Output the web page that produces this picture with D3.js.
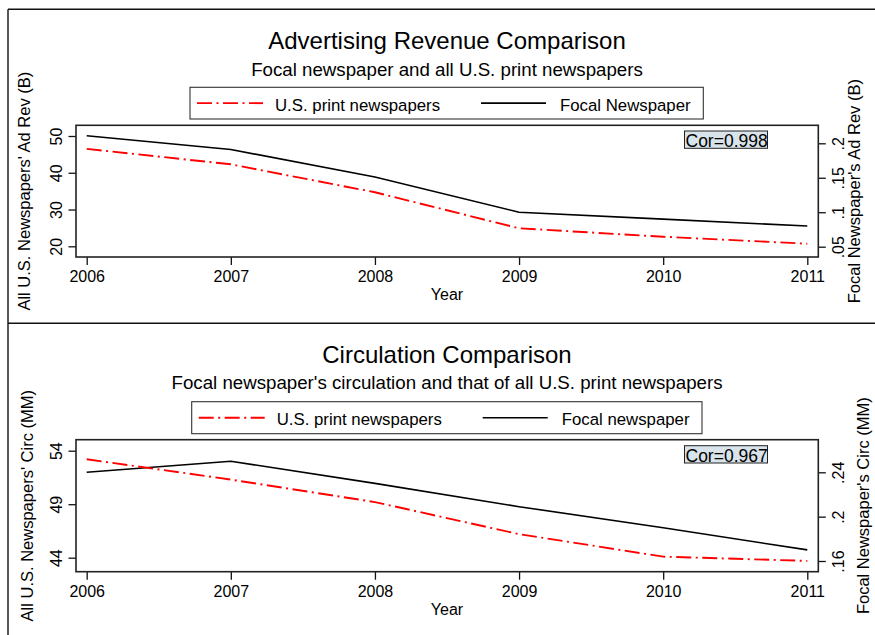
<!DOCTYPE html>
<html>
<head>
<meta charset="utf-8">
<script src="https://cdn.jsdelivr.net/npm/d3@7"></script>
<style>
  body { margin: 0; background: #fff; }
  svg { display: block; font-family: "Liberation Sans", Arial, sans-serif; }
</style>
</head>
<body>
<svg id="svg_chart" width="875" height="635"></svg>
<script>

// values
var years = [2006, 2007, 2008, 2009, 2010, 2011];

var adRevUS = [46.5, 42.3, 34.7, 24.9, 22.6, 20.7];
var adRevFocal = [0.211, 0.191, 0.151, 0.100, 0.090, 0.080];
var adRevLeftTicks = [20, 30, 40, 50];
var adRevRightTicks = [0.05, 0.1, 0.15, 0.2];

var circUS = [53.2, 51.3, 49.2, 46.2, 44.1, 43.7];
var circFocal = [0.240, 0.250, 0.230, 0.209, 0.190, 0.170];
var circLeftTicks = [44, 49, 54];
var circRightTicks = [0.16, 0.2, 0.24];

var svg = d3.select("#svg_chart")

// outer frames of the two graphs
svg.append("path")
  .attr("d", "M8,9.3H876 M8,9.3V636 M8,323.3H876")
  .attr("fill", "none")
  .attr("stroke", "#111")
  .attr("stroke-width", 1.4)

var stripZero = d => String(d).replace(/^0\./, ".")

function drawPanel(p)
{
  var g = svg.append("g")

  var x = d3.scaleLinear().domain([2006, 2011]).range([86.7, 807.3])
  var yL = d3.scaleLinear().domain(p.leftDomain).range(p.leftRange)
  var yR = d3.scaleLinear().domain(p.rightDomain).range(p.rightRange)

  // titles
  g.append("text")
    .attr("x", 447).attr("y", p.titleY)
    .attr("text-anchor", "middle")
    .attr("font-size", 24)
    .text(p.title)

  g.append("text")
    .attr("x", 447).attr("y", p.subY)
    .attr("text-anchor", "middle")
    .attr("font-size", 18.7)
    .text(p.subtitle)

  // legend
  var lg = g.append("g")
  lg.append("rect")
    .attr("x", p.legend[0]).attr("y", p.legend[1])
    .attr("width", p.legend[2] - p.legend[0])
    .attr("height", p.legend[3] - p.legend[1])
    .attr("fill", "#fff")
    .attr("stroke", "#333")
    .attr("stroke-width", 1.1)

  var ly = (p.legend[1] + p.legend[3]) / 2
  lg.append("line")
    .attr("x1", p.legend[0] + 7).attr("x2", p.legend[0] + 73)
    .attr("y1", ly).attr("y2", ly)
    .attr("stroke", "red").attr("stroke-width", 1.9)
    .attr("stroke-dasharray", "15,4.5,2,4.5")
  lg.append("text")
    .attr("x", p.legend[0] + 85).attr("y", ly + 7.4)
    .attr("font-size", 16.8)
    .text("U.S. print newspapers")
  lg.append("line")
    .attr("x1", p.legend[0] + 291).attr("x2", p.legend[0] + 356)
    .attr("y1", ly).attr("y2", ly)
    .attr("stroke", "#000").attr("stroke-width", 1.6)
  lg.append("text")
    .attr("x", p.legend[0] + 370).attr("y", ly + 7.4)
    .attr("font-size", 16.8)
    .text(p.focalLabel)

  // axes
  var xAxis = g.append("g")
    .attr("transform", "translate(0," + p.plotBottom + ")")
    .call(d3.axisBottom(x).tickValues(years).tickFormat(d3.format("d")).tickSize(8).tickSizeOuter(0))
  xAxis.select(".domain").remove()
  xAxis.selectAll("text")
    .attr("y", 25.3).attr("dy", 0)
    .attr("font-size", 16).attr("font-family", null)

  var leftAxis = g.append("g")
    .attr("transform", "translate(76,0)")
    .call(d3.axisLeft(yL).tickValues(p.leftTicks).tickSize(7.5).tickSizeOuter(0))
  leftAxis.select(".domain").remove()
  leftAxis.selectAll("text")
    .attr("transform", "rotate(-90)")
    .attr("x", 0).attr("y", -13.8).attr("dy", 0)
    .attr("text-anchor", "middle")
    .attr("font-size", 16).attr("font-family", null)

  var rightAxis = g.append("g")
    .attr("transform", "translate(818.3,0)")
    .call(d3.axisRight(yR).tickValues(p.rightTicks).tickFormat(stripZero).tickSize(7.5).tickSizeOuter(0))
  rightAxis.select(".domain").remove()
  rightAxis.selectAll("text")
    .attr("transform", "rotate(-90)")
    .attr("x", 0).attr("y", 26).attr("dy", 0)
    .attr("text-anchor", "middle")
    .attr("font-size", 16).attr("font-family", null)

  g.selectAll(".tick line").attr("stroke", "#111").attr("stroke-width", 1.3)

  // axis titles
  g.append("text")
    .attr("x", 447).attr("y", p.yearY)
    .attr("text-anchor", "middle")
    .attr("font-size", 16)
    .text("Year")

  var midY = (p.plotTop + p.plotBottom) / 2
  g.append("text")
    .attr("transform", "translate(" + p.leftTitleX + "," + midY + ") rotate(-90)")
    .attr("text-anchor", "middle")
    .attr("font-size", 16.5)
    .text(p.leftTitle)
  g.append("text")
    .attr("transform", "translate(" + p.rightTitleX + "," + midY + ") rotate(-90)")
    .attr("text-anchor", "middle")
    .attr("font-size", 16.5)
    .text(p.rightTitle)

  // the series
  var usLine = d3.line()
    .x((d, i) => x(years[i]))
    .y(d => yL(d))
  var focalLine = d3.line()
    .x((d, i) => x(years[i]))
    .y(d => yR(d))

  g.append("path")
    .datum(p.focal)
    .attr("d", focalLine)
    .attr("fill", "none")
    .attr("stroke", "#000")
    .attr("stroke-width", 1.6)

  g.append("path")
    .datum(p.us)
    .attr("d", usLine)
    .attr("fill", "none")
    .attr("stroke", "red")
    .attr("stroke-width", 1.9)
    .attr("stroke-dasharray", "15,4.5,2,4.5")

  // plot region box
  g.append("rect")
    .attr("x", 76).attr("y", p.plotTop)
    .attr("width", 818.3 - 76)
    .attr("height", p.plotBottom - p.plotTop)
    .attr("fill", "none")
    .attr("stroke", "#222")
    .attr("stroke-width", 1.6)

  // correlation note
  g.append("rect")
    .attr("x", 684.5).attr("y", p.corY)
    .attr("width", 83).attr("height", 17.3)
    .attr("fill", "#d8e3ea")
    .attr("stroke", "#222")
    .attr("stroke-width", 1)
  g.append("text")
    .attr("x", 685.5).attr("y", p.corY + 15.8)
    .attr("font-size", 17.5)
    .text(p.corText)
}

drawPanel({
  title: "Advertising Revenue Comparison",
  subtitle: "Focal newspaper and all U.S. print newspapers",
  titleY: 49.3, subY: 75.7,
  legend: [190, 87.3, 703.3, 119],
  focalLabel: "Focal Newspaper",
  plotTop: 125.3, plotBottom: 257,
  leftDomain: [20, 50], leftRange: [246.3, 136],
  rightDomain: [0.05, 0.2], rightRange: [246.7, 143.3],
  leftTicks: adRevLeftTicks, rightTicks: adRevRightTicks,
  us: adRevUS, focal: adRevFocal,
  yearY: 300,
  leftTitle: "All U.S. Newspapers' Ad Rev (B)", leftTitleX: 30,
  rightTitle: "Focal Newspaper's Ad Rev (B)", rightTitleX: 860,
  corY: 131, corText: "Cor=0.998"
})

drawPanel({
  title: "Circulation Comparison",
  subtitle: "Focal newspaper's circulation and that of all U.S. print newspapers",
  titleY: 363, subY: 389,
  legend: [191.7, 401.7, 702, 433.7],
  focalLabel: "Focal newspaper",
  plotTop: 439.7, plotBottom: 571.7,
  leftDomain: [44, 54], leftRange: [557.7, 450.7],
  rightDomain: [0.16, 0.24], rightRange: [561, 472.3],
  leftTicks: circLeftTicks, rightTicks: circRightTicks,
  us: circUS, focal: circFocal,
  yearY: 614.7,
  leftTitle: "All U.S. Newspapers' Circ (MM)", leftTitleX: 33,
  rightTitle: "Focal Newspaper's Circ (MM)", rightTitleX: 869,
  corY: 445.7, corText: "Cor=0.967"
})

</script>
</body>
</html>
